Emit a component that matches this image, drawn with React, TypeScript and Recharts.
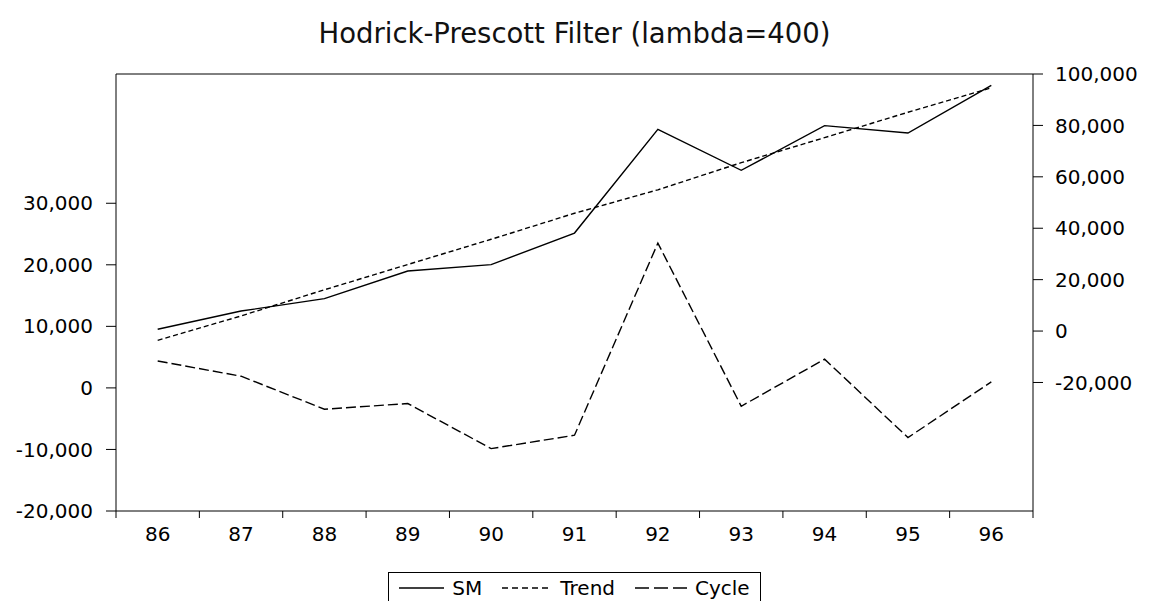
import { LineChart, Line, XAxis, YAxis, CartesianGrid } from "recharts";

// values (SM, Trend on right axis; Cycle on left)
const years = ["86", "87", "88", "89", "90", "91", "92", "93", "94", "95", "96"];
const smValues = [700, 7780, 12600, 23350, 25840, 38130, 78480, 62530, 79920, 77040, 95600];
const trendValues = [-3600, 5880, 16060, 25890, 35700, 45820, 54950, 65500, 75250, 85110, 94620];
const cycleValues = [4370, 1900, -3460, -2540, -9860, -7690, 23530, -2980, 4670, -8070, 980];

const leftTicks = [-20000, -10000, 0, 10000, 20000, 30000];
const rightTicks = [-20000, 0, 20000, 40000, 60000, 80000, 100000];

const data = years.map((year, i) => ({
  year,
  sm: smValues[i],
  trend: trendValues[i],
  cycle: cycleValues[i],
}));

const W = 1149;
const H = 601;
const PLOT_LEFT = 116;
const PLOT_RIGHT = 1033;
const band = (PLOT_RIGHT - PLOT_LEFT) / years.length;
const font = "'DejaVu Sans', 'Liberation Sans', Arial, sans-serif";

const fmt = (v: number) => v.toLocaleString("en-US");

const YearTick = (props: any) => {
  const { x, y, payload, index } = props;
  const half = band / 2;
  const top = y - 7;
  return (
    <g>
      <line x1={x - half} y1={top} x2={x - half} y2={y} stroke="#000" />
      {index === years.length - 1 && (
        <line x1={x + half} y1={top} x2={x + half} y2={y} stroke="#000" />
      )}
      <text x={x} y={y + 23} textAnchor="middle" fontSize={20} fill="#000" fontFamily={font}>
        {payload.value}
      </text>
    </g>
  );
};

const LegendSample = ({ dash, w }: { dash?: string; w: number }) => (
  <svg width={w} height={10} style={{ display: "inline-block", verticalAlign: "middle" }}>
    <line x1={0} y1={5} x2={w} y2={5} stroke="#000" strokeWidth={1.3} strokeDasharray={dash} />
  </svg>
);

export default function App() {
  return (
    <div style={{ position: "relative", width: W, height: H, background: "#fff", fontFamily: font }}>
      <style>{"body{margin:0}"}</style>
      <div
        style={{
          position: "absolute",
          top: 17,
          left: 0,
          width: W,
          textAlign: "center",
          fontSize: 27.5,
          lineHeight: "32px",
          color: "#111",
        }}
      >
        Hodrick-Prescott Filter (lambda=400)
      </div>
      <LineChart width={W} height={H} data={data} margin={{ top: 74, right: 16, bottom: 50, left: 16 }}>
        {/* top edge of the frame */}
        <CartesianGrid
          vertical={false}
          stroke="#000"
          horizontalCoordinatesGenerator={({ offset }: any) => [offset.top]}
        />
        <XAxis
          dataKey="year"
          interval={0}
          padding={{ left: band / 2, right: band / 2 }}
          height={40}
          tickSize={7}
          tickMargin={0}
          tickLine={false}
          axisLine={{ stroke: "#000" }}
          tick={<YearTick />}
        />
        <YAxis
          yAxisId="left"
          width={100}
          domain={[-20000, 51000]}
          ticks={leftTicks}
          tickFormatter={fmt}
          tickSize={10}
          tickMargin={13}
          axisLine={{ stroke: "#000" }}
          tickLine={{ stroke: "#000" }}
          tick={{ fill: "#000", fontSize: 20, fontFamily: font }}
          allowDataOverflow
        />
        <YAxis
          yAxisId="right"
          orientation="right"
          width={100}
          domain={[-70000, 100000]}
          ticks={rightTicks}
          tickFormatter={fmt}
          tickSize={10}
          tickMargin={12}
          axisLine={{ stroke: "#000" }}
          tickLine={{ stroke: "#000" }}
          tick={{ fill: "#000", fontSize: 20, fontFamily: font, textAnchor: "start" }}
          allowDataOverflow
        />
        <Line
          yAxisId="right"
          type="linear"
          dataKey="sm"
          stroke="#000"
          strokeWidth={1.4}
          dot={false}
          isAnimationActive={false}
        />
        <Line
          yAxisId="right"
          type="linear"
          dataKey="trend"
          stroke="#000"
          strokeWidth={1.4}
          strokeDasharray="5 3"
          dot={false}
          isAnimationActive={false}
        />
        <Line
          yAxisId="left"
          type="linear"
          dataKey="cycle"
          stroke="#000"
          strokeWidth={1.4}
          strokeDasharray="10 4"
          dot={false}
          isAnimationActive={false}
        />
      </LineChart>
      <div
        style={{
          position: "absolute",
          top: 572,
          left: 0,
          width: W,
          display: "flex",
          justifyContent: "center",
        }}
      >
        <div
          style={{
            display: "flex",
            alignItems: "center",
            gap: 8,
            border: "1px solid #000",
            borderBottom: "none",
            padding: "3px 10px 10px",
            fontSize: 20,
            color: "#000",
          }}
        >
          <LegendSample w={45} />
          <span style={{ marginRight: 12 }}>SM</span>
          <LegendSample w={50} dash="6 4" />
          <span style={{ marginRight: 12 }}>Trend</span>
          <LegendSample w={52} dash="14 5" />
          <span>Cycle</span>
        </div>
      </div>
    </div>
  );
}
